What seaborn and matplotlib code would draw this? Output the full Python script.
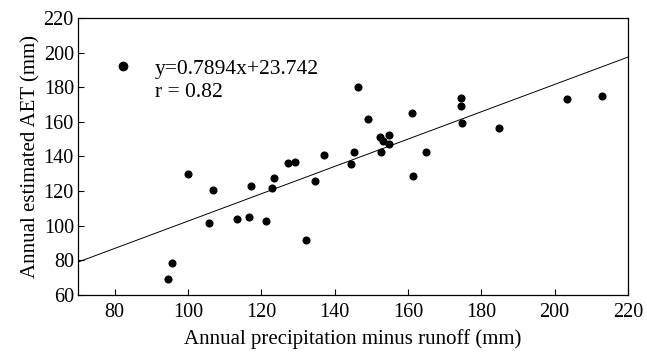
import seaborn as sns
import matplotlib.pyplot as plt
import numpy as np
from matplotlib.lines import Line2D

# data
pr = [94.5, 95.5, 100.0, 105.8, 106.9, 113.4, 116.5, 117.3, 121.3, 123.0,
      123.5, 127.4, 129.2, 132.2, 134.5, 137.0, 144.4, 145.3, 146.4, 149.0,
      152.4, 153.1, 154.8, 154.7, 152.6, 161.0, 161.3, 164.9, 174.4, 174.4,
      174.6, 184.7, 203.4, 212.8]
aet = [69.2, 78.3, 129.9, 101.8, 120.7, 103.7, 105.1, 123.0, 102.6, 122.0,
       127.4, 136.3, 136.7, 92.0, 125.9, 141.0, 135.7, 142.6, 180.2, 161.7,
       151.3, 148.8, 152.4, 147.2, 142.6, 165.3, 128.5, 142.6, 173.6, 169.2,
       159.4, 156.7, 173.2, 175.0]
slope = 0.7894
intercept = 23.742
r_value = 0.82

sns.set_style('ticks')
plt.rcParams['font.family'] = ['Liberation Serif', 'DejaVu Serif']
plt.rcParams['xtick.direction'] = 'in'
plt.rcParams['ytick.direction'] = 'in'
plt.rcParams['text.color'] = 'black'
plt.rcParams['axes.labelcolor'] = 'black'

fig = plt.figure(figsize=(6.47, 3.54), dpi=100)
ax = fig.add_axes([0.1206, 0.1667, 0.85, 0.7825])

sns.scatterplot(x=pr, y=aet, color='black', s=34, edgecolor='black', linewidth=0, ax=ax)
xs = np.array([70, 220])
sns.lineplot(x=xs, y=slope * xs + intercept, color='black', linewidth=0.7, ax=ax)

ax.set_xlim(70, 220)
ax.set_ylim(60, 220)
ax.set_xticks(range(80, 221, 20))
ax.set_yticks(range(60, 221, 20))
ax.tick_params(labelsize=14.5, length=4, width=0.8, colors='black')
ax.tick_params(axis='x', pad=6)
ax.tick_params(axis='y', pad=3)
ax.set_xlabel('Annual precipitation minus runoff (mm)', fontsize=15, labelpad=5)
ax.set_ylabel('Annual estimated AET (mm)', fontsize=15, labelpad=2)
for sp in ax.spines.values():
    sp.set_linewidth(0.9)
    sp.set_color('black')

h1 = Line2D([], [], marker='o', color='black', linestyle='none', markersize=6)
h2 = Line2D([], [], linestyle='none')
ax.legend([h1, h2], ['y=%.4fx+%.3f' % (slope, intercept), 'r = %.2f' % r_value],
          loc='upper left', bbox_to_anchor=(0.042, 0.892), frameon=False,
          fontsize=15.5, handlelength=1.0, handletextpad=1.0,
          labelspacing=0.15, borderpad=0)

fig.savefig('out.png', dpi=100)
